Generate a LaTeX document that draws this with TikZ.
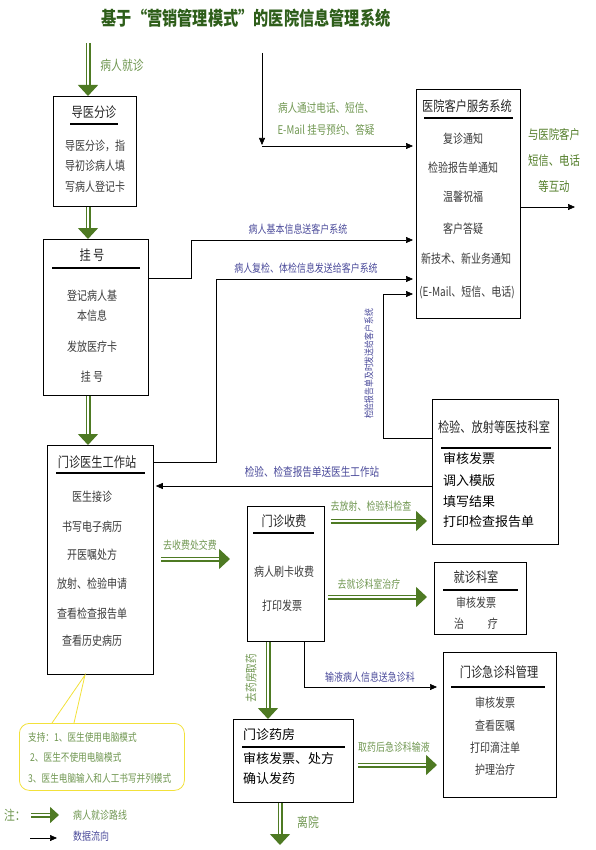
\documentclass[tikz,border=0pt]{standalone}
\usepackage{fontspec}
\setmainfont{Noto Sans CJK SC}
\newfontfamily\cond[FakeStretch=0.8]{Noto Sans CJK SC}
\usepackage{xcolor}
\usepackage{tikz}
\usetikzlibrary{calc,arrows.meta}
\definecolor{titc}{HTML}{2E5E1A}
\definecolor{visitc}{HTML}{4E7A23}
\definecolor{labg}{HTML}{6F9650}
\definecolor{labb}{HTML}{4A4A9A}
\definecolor{notec}{HTML}{F2E13A}
\definecolor{itmc}{HTML}{3A3A3A}
\newcommand{\fsz}[1]{\fontsize{#1}{#1}\selectfont}
\tikzset{
  box/.style={draw,line width=0.8pt,anchor=north west,inner sep=0pt},
  ttl/.style={font=\cond\fsz{14},text=black!85,inner sep=1pt},
  itm/.style={font=\cond\fsz{12.5},text=itmc,inner sep=1pt},
  itmb/.style={font=\fsz{13},text=black,anchor=west,inner sep=1pt},
  rul/.style={line width=1.5pt},
  visit/.style={draw=visitc,double=white,double distance=2pt,line width=1.5pt,-{Triangle[length=11pt,width=20pt]}},
  flow/.style={-{Triangle[length=7pt,width=6pt]},line width=0.6pt},
  glab/.style={font=\cond\fsz{11.2},text=labg,inner sep=1pt},
  blab/.style={font=\cond\fsz{11.2},text=labb,inner sep=1pt}
}
\begin{document}
\begin{tikzpicture}[x=1pt,y=-1pt]
\useasboundingbox (0,0) rectangle (595,850);
\node[font=\cond\fsz{19}\bfseries,text=titc] (title) at (246,18) {基于“营销管理模式”的医院信息管理系统};

% boxes
\node[box,minimum width=83pt,minimum height=110pt] (guide) at (53,96) {};
\node[box,minimum width=105pt,minimum height=156pt] (reg) at (43,239) {};
\node[box,minimum width=106pt,minimum height=229pt] (doc) at (47,445) {};
\node[box,minimum width=104pt,minimum height=229pt] (cust) at (416,89) {};
\node[box,minimum width=126pt,minimum height=145pt] (lab) at (432,399) {};
\node[box,minimum width=77pt,minimum height=135pt] (fee) at (247,506) {};
\node[box,minimum width=92pt,minimum height=72pt] (clinic) at (434,562) {};
\node[box,minimum width=113pt,minimum height=145pt] (emerg) at (443,652) {};
\node[box,minimum width=120pt,minimum height=83pt] (pharm) at (233,719) {};

% 导医分诊
\node[ttl] (guidet) at (94,112) {导医分诊};
\draw[rul] (70,124) -- (118,124);
\node[itm] (guide1) at (95,146) {导医分诊，指};
\node[itm] (guide2) at (95,166) {导初诊病人填};
\node[itm] (guide3) at (95,187) {写病人登记卡};

% 挂号
\node[ttl] (regt) at (92,255) {挂\,号};
\draw[rul] (52,268) -- (140,268);
\node[itm] (reg1) at (92,296) {登记病人基};
\node[itm] (reg2) at (92,316) {本信息};
\node[itm] (reg3) at (92,347) {发放医疗卡};
\node[itm] (reg4) at (92,377) {挂\,号};

% 门诊医生工作站
\node[ttl] (doct) at (97,462) {门诊医生工作站};
\draw[rul] (56,473) -- (145,473);
\node[itm] (doc1) at (92,497) {医生接诊};
\node[itm] (doc2) at (92,527) {书写电子病历};
\node[itm] (doc3) at (92,555) {开医嘱处方};
\node[itm] (doc4) at (92,584) {放射、检验申请};
\node[itm] (doc5) at (92,614) {查看检查报告单};
\node[itm] (doc6) at (92,641) {查看历史病历};

% 医院客户服务系统
\node[ttl] (custt) at (467,106) {医院客户服务系统};
\draw[rul] (424,118) -- (513,118);
\node[itm] (cust1) at (463,139) {复诊通知};
\node[itm] (cust2) at (463,168) {检验报告单通知};
\node[itm] (cust3) at (463,197) {温馨祝福};
\node[itm] (cust4) at (463,229) {客户答疑};
\node[itm] (cust5) at (466,259) {新技术、新业务通知};
\node[itm] (cust6) at (467,292) {(E-Mail、短信、电话)};

% 检验、放射等医技科室
\node[ttl] (labt) at (494,427) {检验、放射等医技科室};
\draw[rul] (441,448) -- (551,448);
\node[itmb] (lab1) at (442,459) {审核发票};
\node[itmb] (lab2) at (442,481) {调入模版};
\node[itmb] (lab3) at (442,502) {填写结果};
\node[itmb] (lab4) at (442,522) {打印检查报告单};

% 门诊收费
\node[ttl] (feet) at (284,521) {门诊收费};
\draw[rul] (253,533) -- (314,533);
\node[itm] (fee1) at (284,572) {病人刷卡收费};
\node[itm] (fee2) at (282,606) {打印发票};

% 就诊科室
\node[ttl] (clinict) at (476,577) {就诊科室};
\draw[rul] (443,590) -- (518,590);
\node[itm] (clinic1) at (476,603) {审核发票};
\node[itm] (clinic2) at (476,624) {治\hspace{1.9em}疗};

% 门诊急诊科管理
\node[ttl] (emergt) at (499,672) {门诊急诊科管理};
\draw[rul] (451,687) -- (545,687);
\node[itm] (emerg1) at (495,703) {审核发票};
\node[itm] (emerg2) at (495,726) {查看医嘱};
\node[itm] (emerg3) at (495,748) {打印滴注单};
\node[itm] (emerg4) at (495,770) {护理治疗};

% 门诊药房
\node[itmb] (pharmt) at (242,735) {门诊药房};
\draw[rul] (242,747) -- (345,747);
\node[itmb] (pharm1) at (242,759) {审核发票、处方};
\node[itmb] (pharm2) at (242,779) {确认发药};

% patient route
\coordinate (lane) at (88,0);
\coordinate (enter) at (88,43);
\draw[visit] (enter) -- (guide.north -| lane);
\node[font=\cond\fsz{13.5},text=labg] (entert) at (122,65) {病人就诊};
\draw[visit] (guide.south -| lane) -- (reg.north -| lane);
\draw[visit] (reg.south -| lane) -- (doc.north -| lane);
\draw[visit,shorten <=7pt,shorten >=17pt] (doc.east |- 0,559) -- (fee.west |- 0,559);
\node[glab] (payt) at (190,545) {去收费处交费};
\draw[visit,shorten <=6pt,shorten >=5pt] (fee.east |- 0,521) -- (lab.west |- 0,521);
\node[glab] (labgo) at (371,506) {去放射、检验科检查};
\draw[visit,shorten <=3pt,shorten >=7pt] (fee.east |- 0,597) -- (clinic.west |- 0,597);
\node[glab] (clinicgo) at (369,584) {去就诊科室治疗};
\draw[visit] (fee.south -| 268,0) -- (pharm.north -| 268,0);
\node[glab,font=\cond\fsz{12},rotate=90] (drugt) at (251,678) {去药房取药};
\draw[visit,shorten <=4pt,shorten >=6pt] (pharm.east |- 0,765) -- (emerg.west |- 0,765);
\node[glab] (dript) at (394,747) {取药后急诊科输液};
\coordinate (leave) at (280,845);
\draw[visit] (pharm.south -| leave) -- (leave);
\node[font=\cond\fsz{13.5},text=labg] (leavet) at (308,822) {离院};

% data flow
\coordinate (call) at (262,53);
\coordinate (callend) at (262,145);
\draw[flow] (call) -- (callend);
\draw[flow,shorten >=3pt] (callend |- 0,146) -- (cust.west |- 0,146);
\node[glab,font=\cond\fsz{12},align=center] (callt) at (326,119) {病人通过电话、短信、\\[10pt]E-Mail 挂号预约、答疑};
\draw[flow,shorten >=3pt] (reg.east |- 0,278) -| (191,240) -- (cust.west |- 0,240);
\node[blab] (baset) at (298,229) {病人基本信息送客户系统};
\draw[flow,shorten >=3pt] (doc.east |- 0,462) -| (216,279) -- (cust.west |- 0,279);
\node[blab] (checkt) at (306,268) {病人复检、体检信息发送给客户系统};
\draw[flow,shorten >=3pt] (lab.west |- 0,438) -| (383,294) -- (cust.west |- 0,294);
\node[blab,font=\cond\fsz{9.8},rotate=90] (reportt) at (369,364) {检验报告单及时发送给客户系统};
\coordinate (talk) at (575,207);
\draw[flow] (cust.east |- talk) -- (talk);
\node[font=\cond\fsz{13},text=visitc!85!labg,align=center] (talkt) at (554,160) {与医院客户\\[13pt]短信、电话\\[13pt]等互动};
\draw[flow,shorten >=2pt] (lab.west |- 0,486) -- (doc.east |- 0,486);
\node[blab,font=\cond\fsz{12}] (backt) at (312,472) {检验、检查报告单送医生工作站};
\draw[flow,shorten >=6pt] (fee.south -| 304,0) |- (emerg.west |- 0,687);
\node[blab] (infut) at (370,677) {输液病人信息送急诊科};

% note
\node[draw=notec,line width=0.8pt,rounded corners=10pt,anchor=north west,minimum width=165pt,minimum height=67pt,inner sep=0pt] (note) at (19,723) {};
\coordinate (tip) at (85,675);
\draw[notec,line width=0.8pt] (52,723) -- (tip) -- (74,723);
\node[glab,font=\cond\fsz{10.8},anchor=west] (note1) at (27,737) {支持：1、医生使用电脑模式};
\node[glab,font=\cond\fsz{10.8},anchor=west] (note2) at (29,757) {2、医生不使用电脑模式};
\node[glab,font=\cond\fsz{10.8},anchor=west] (note3) at (27,778) {3、医生电脑输入和人工书写并列模式};

% legend
\node[font=\cond\fsz{13.5},text=labg] (key) at (15,815) {注：};
\coordinate (k1a) at (31,815);
\coordinate (k1b) at (59,815);
\draw[visit,-{Triangle[length=9pt,width=16pt]}] (k1a) -- (k1b);
\node[glab,anchor=west] (k1) at (72,815) {病人就诊路线};
\coordinate (k2a) at (30,838);
\coordinate (k2b) at (57,838);
\draw[flow] (k2a) -- (k2b);
\node[blab,anchor=west] (k2) at (72,836) {数据流向};
\end{tikzpicture}
\end{document}
